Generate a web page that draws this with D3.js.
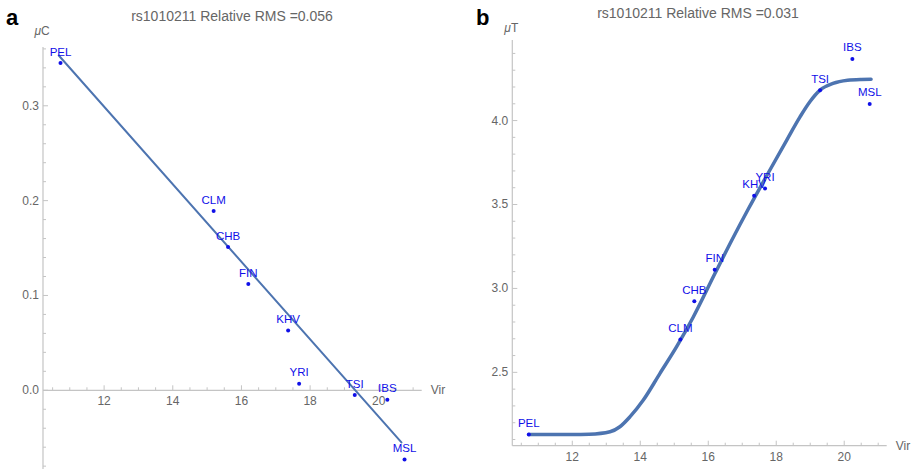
<!DOCTYPE html>
<html>
<head>
<meta charset="utf-8">
<script src="https://cdn.jsdelivr.net/npm/d3@7"></script>
<style>
  body { margin: 0; background: #fff; }
  svg { display: block; font-family: "Liberation Sans", Arial, sans-serif; }
</style>
</head>
<body>
<svg id="chart" width="914" height="469"></svg>
<script>
// populations and their Vir values (shared by both panels)
const pops = ['PEL', 'CLM', 'CHB', 'FIN', 'KHV', 'YRI', 'TSI', 'IBS', 'MSL'];
const virA = [10.73, 15.19, 15.61, 16.20, 17.36, 17.68, 19.30, 20.25, 20.75];
const muC  = [0.345, 0.189, 0.151, 0.112, 0.063, 0.007, -0.005, -0.010, -0.073];
const virB = [10.72, 15.18, 15.59, 16.19, 17.35, 17.67, 19.29, 20.24, 20.75];
const muT  = [2.129, 2.696, 2.924, 3.111, 3.552, 3.595, 4.181, 4.367, 4.099];

// fitted curves
const fitAx = [10.68, 20.66];
const fitAy = [0.353, -0.055];
const fitBx = [10.72, 12.0, 12.5, 13.11, 13.40, 13.70, 14.09, 14.58, 15.07, 15.56, 16.2, 16.7, 17.17, 17.81, 18.31, 18.70, 18.99, 19.29, 19.67, 20.1, 20.5, 20.79];
const fitBy = [2.129, 2.129, 2.131, 2.146, 2.176, 2.236, 2.335, 2.494, 2.653, 2.83, 3.09, 3.29, 3.47, 3.704, 3.884, 4.022, 4.112, 4.181, 4.221, 4.24, 4.245, 4.246];

const xTicks = [12, 14, 16, 18, 20];
const yTicksA = [0.0, 0.1, 0.2, 0.3];
const yTicksB = [2.5, 3.0, 3.5, 4.0];

const svg = d3.select('#chart');
const axisColor = '#c4c4c4';
const tickText = '#666';
const ptColor = '#1010e8';

function panel(opt) {
    const g = svg.append('g');
    const x = opt.x, y = opt.y;
    const [x0, x1] = x.domain();
    const [y0, y1] = y.domain();
    const axY = y(opt.xAxisAt);   // where the horizontal axis sits
    const axX = x(x0);

    // axes lines
    g.append('line').attr('x1', axX).attr('x2', x(x1)).attr('y1', axY).attr('y2', axY)
        .attr('stroke', axisColor).attr('stroke-width', 1.2);
    g.append('line').attr('x1', axX).attr('x2', axX).attr('y1', y(y0)).attr('y2', y(y1))
        .attr('stroke', axisColor).attr('stroke-width', 1.2);

    // x ticks (minor every 0.5)
    const xMinor = d3.range(Math.ceil(x0 * 2) / 2, x1, 0.5);
    g.selectAll('.xt').data(xMinor).enter().append('line')
        .attr('x1', d => x(d)).attr('x2', d => x(d))
        .attr('y1', axY).attr('y2', d => axY - (xTicks.includes(d) ? 5 : 3))
        .attr('stroke', axisColor);
    g.selectAll('.xl').data(xTicks).enter().append('text')
        .attr('x', d => x(d)).attr('y', axY + 15)
        .attr('text-anchor', 'middle').attr('font-size', 12).attr('fill', tickText)
        .text(d => d);

    // y ticks
    const yMinor = d3.range(Math.ceil(y0 / opt.yMinor) * opt.yMinor, y1, opt.yMinor);
    g.selectAll('.yt').data(yMinor).enter().append('line')
        .attr('x1', axX).attr('x2', d => axX + (opt.yTicks.some(t => Math.abs(t - d) < 1e-6) ? 5 : 3))
        .attr('y1', d => y(d)).attr('y2', d => y(d))
        .attr('stroke', axisColor);
    g.selectAll('.yl').data(opt.yTicks).enter().append('text')
        .attr('x', axX - 4).attr('y', d => y(d) + 4)
        .attr('text-anchor', 'end').attr('font-size', 12).attr('fill', tickText)
        .text(d => d.toFixed(1));

    // axis labels
    g.append('text').attr('x', x(x1) + 9).attr('y', axY + 4)
        .attr('font-size', 12).attr('fill', tickText).text('Vir');
    const yl = g.append('text').attr('x', axX - 1).attr('y', opt.yLabelY)
        .attr('text-anchor', 'middle').attr('font-size', 12).attr('fill', tickText);
    yl.append('tspan').attr('font-style', 'italic').text('μ');
    yl.append('tspan').text(opt.yLabel);

    // title and panel letter
    g.append('text').attr('x', opt.titleX).attr('y', opt.titleY)
        .attr('text-anchor', 'middle').attr('font-size', 14).attr('fill', '#666')
        .text(opt.title);
    g.append('text').attr('x', opt.letterX).attr('y', 25)
        .attr('font-size', 22).attr('font-weight', 'bold').attr('fill', '#000')
        .text(opt.letter);

    // fit curve
    const fit = d3.zip(opt.fx, opt.fy);
    g.append('path').datum(fit)
        .attr('fill', 'none').attr('stroke', '#4d74b0').attr('stroke-width', opt.lineW)
        .attr('stroke-linecap', 'round')
        .attr('d', d3.line().x(d => x(d[0])).y(d => y(d[1])).curve(d3.curveMonotoneX));

    // points and labels
    const pts = pops.map((p, i) => ({ name: p, vx: opt.px[i], vy: opt.py[i] }));
    g.selectAll('.pt').data(pts).enter().append('circle')
        .attr('cx', d => x(d.vx)).attr('cy', d => y(d.vy)).attr('r', 2)
        .attr('fill', ptColor);
    g.selectAll('.pl').data(pts).enter().append('text')
        .attr('x', d => x(d.vx)).attr('y', d => y(d.vy) - 7.5)
        .attr('text-anchor', 'middle').attr('font-size', 11.5).attr('fill', ptColor)
        .text(d => d.name);
}

panel({
    x: d3.scaleLinear().domain([10.22, 21.25]).range([43, 421.7]),
    y: d3.scaleLinear().domain([-0.083, 0.362]).range([469, 47]),
    xAxisAt: 0, yTicks: yTicksA, yMinor: 0.02, yLabel: 'C', yLabelY: 35,
    title: 'rs1010211 Relative RMS =0.056', titleX: 232, titleY: 21,
    letter: 'a', letterX: 6, lineW: 2,
    fx: fitAx, fy: fitAy, px: virA, py: muC
});

panel({
    x: d3.scaleLinear().domain([10.235, 21.25]).range([512.3, 886.7]),
    y: d3.scaleLinear().domain([2.063, 4.48]).range([445.7, 40]),
    xAxisAt: 2.063, yTicks: yTicksB, yMinor: 0.1, yLabel: 'T', yLabelY: 32,
    title: 'rs1010211 Relative RMS =0.031', titleX: 698, titleY: 17.5,
    letter: 'b', letterX: 476, lineW: 3.5,
    fx: fitBx, fy: fitBy, px: virB, py: muT
});
</script>
</body>
</html>
